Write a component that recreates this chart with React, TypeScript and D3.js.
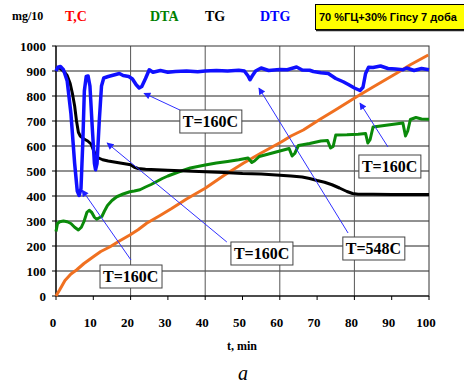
import React from "react";
import * as d3 from "d3";

const yTicks = [0, 100, 200, 300, 400, 500, 600, 700, 800, 900, 1000];
const xTicks = [0, 10, 20, 30, 40, 50, 60, 70, 80, 90, 100];
const xGrid = [20, 40, 60, 80];

const dtg: [number, number][] = [
  [0, 900], [0.5, 915], [1.2, 918], [2, 905], [3, 860], [4, 730], [5, 530], [5.7, 420], [6.2, 402], [6.7, 430],
  [7.2, 620], [7.6, 820], [8.1, 878], [8.6, 880], [9.1, 840], [9.7, 680], [10.3, 530], [10.6, 505], [11, 530],
  [11.6, 700], [12.2, 840], [12.8, 872], [14, 878], [16, 886], [17, 890], [18, 882], [19.5, 878], [20.5, 868],
  [21.5, 845], [22.3, 832], [23, 838], [24, 870], [25, 905], [26, 895], [28, 902], [30, 895], [32, 898], [35, 900],
  [38, 897], [40, 900], [43, 902], [46, 900], [49, 903], [50.5, 900], [51.5, 880], [52, 865], [52.6, 880],
  [53.5, 900], [55, 912], [57, 902], [60, 906], [62, 905], [64.5, 916], [66, 904], [68, 903], [69, 898], [71, 893],
  [73, 890], [75, 870], [77, 857], [78.5, 845], [80, 832], [81.5, 822], [82.3, 835], [83, 890], [83.8, 915],
  [85, 914], [87, 920], [89, 910], [91, 908], [93, 905], [94, 912], [96, 902], [98, 910], [100, 905],
];

const tg: [number, number][] = [
  [0, 910], [1, 912], [2, 900], [3, 882], [3.8, 850], [4.4, 810], [5, 760], [5.5, 700], [6, 655], [6.5, 640],
  [7.5, 628], [8.5, 620], [9.4, 608], [10, 585], [10.6, 565], [11.3, 553], [12.5, 545], [14, 540], [16, 535],
  [18, 530], [20, 525], [21, 515], [22, 510], [24, 507], [27, 505], [30, 503], [35, 500], [40, 497], [45, 494],
  [50, 490], [55, 488], [59, 484], [63, 480], [66, 476], [68, 470], [70, 462], [72, 455], [74, 445], [76, 432],
  [78, 418], [79.5, 410], [81, 407], [85, 407], [90, 406], [95, 406], [100, 406],
];

const dta: [number, number][] = [
  [0, 258], [0.4, 290], [1, 297], [2, 300], [3, 297], [4, 290], [5, 275], [6, 264], [6.8, 275], [7.5, 298],
  [8.3, 335], [8.9, 343], [9.6, 334], [10.3, 315], [10.9, 307], [11.6, 313], [12.3, 318], [13, 340], [13.8, 362],
  [15, 382], [16.3, 397], [18, 408], [19.8, 417], [21, 420], [22.5, 425], [24, 436], [25.5, 446], [27, 458],
  [28.5, 470], [30, 480], [33, 497], [36, 512], [40, 524], [43, 532], [46, 538], [49, 545], [51.5, 552],
  [52.5, 534], [53.2, 540], [54.5, 558], [57, 568], [60, 580], [62.5, 590], [63.3, 560], [64, 570], [65, 602],
  [68, 610], [71, 620], [72.8, 622], [73.6, 592], [74.3, 598], [75, 644], [78, 645], [81, 647], [83, 650],
  [83.6, 612], [84.2, 625], [85, 676], [88, 682], [91, 688], [93, 692], [93.7, 640], [94.3, 660], [95, 706],
  [96.5, 714], [98, 708], [100, 707],
];

const temp: [number, number][] = [
  [0, 0], [1, 25], [2.4, 62], [4, 88], [5.5, 104], [7.5, 130], [10, 157], [12, 178], [14.5, 197], [17, 220],
  [19.8, 244], [22, 265], [24.3, 291], [27.9, 322], [31, 350], [35, 388], [40, 431], [45, 482], [50.2, 531],
  [55, 572], [60.5, 617], [63, 640], [66.3, 664], [70.8, 707], [75, 745], [80.6, 797], [85, 836], [91.3, 891],
  [95, 925], [99.8, 964],
];

// annotation: label, box top-left (t, v), arrow start (t, v), arrow end (t, v)
const annLabels = ["T=160C", "T=160C", "T=548C", "T=160C", "T=160C"];
const annBox: [number, number][] = [[33.2, 744], [81.2, 564], [76.9, 236], [46.9, 216], [11.8, 124]];
const annFrom: [number, number][] = [[33.2, 744], [89, 596], [78.3, 252], [45.8, 216], [20.1, 144]];
const annTo: [number, number][] = [[23.6, 811], [81.5, 772], [54.4, 832], [13.7, 612], [7, 424]];

const legendLabels = ["T,C", "DTA", "TG", "DTG"];
const legendColors = ["#ff0000", "#008000", "#000000", "#0000ff"];
const legendX = [65, 150, 205, 260];

export default function App() {
  const x = d3.scaleLinear().domain([0, 100]).range([56, 429]);
  const y = d3.scaleLinear().domain([0, 1000]).range([296, 46]);
  const line = d3
    .line<[number, number]>()
    .x((d) => x(d[0]))
    .y((d) => y(d[1]));
  const serif = "'Liberation Serif', 'Times New Roman', serif";
  const sans = "'Liberation Sans', Arial, sans-serif";

  return (
    <svg
      width={464}
      height={387}
      style={{ position: "absolute", left: 0, top: 0, background: "#fff" }}
      fontFamily={serif}
    >
      <defs>
        <marker id="arr" viewBox="0 0 10 10" refX="9" refY="5" markerWidth="9" markerHeight="7" markerUnits="userSpaceOnUse" orient="auto">
          <path d="M0,0 L10,5 L0,10 z" fill="#2020ff" />
        </marker>
      </defs>
      <rect x={0} y={0} width={464} height={387} fill="#fff" />
      {/* gridlines */}
      {yTicks.slice(1, -1).map((v) => (
        <line key={"h" + v} x1={x(0)} x2={x(100)} y1={y(v)} y2={y(v)} stroke="#222" strokeWidth={1} />
      ))}
      {xGrid.map((t) => (
        <line key={"v" + t} x1={x(t)} x2={x(t)} y1={y(0)} y2={y(1000)} stroke="#555" strokeWidth={1} />
      ))}
      <rect x={x(0)} y={y(1000)} width={x(100) - x(0)} height={y(0) - y(1000)} fill="none" stroke="#333" strokeWidth={1} />
      <line x1={x(0)} x2={x(0)} y1={y(0)} y2={y(1000)} stroke="#000" strokeWidth={1.2} />
      <line x1={x(0)} x2={x(100)} y1={y(0)} y2={y(0)} stroke="#000" strokeWidth={1.2} />
      {/* ticks */}
      {yTicks.map((v) => (
        <g key={"yt" + v}>
          <line x1={x(0) - 4} x2={x(0)} y1={y(v)} y2={y(v)} stroke="#000" />
          <text x={46} y={y(v) + 4.5} textAnchor="end" fontSize={13} fontWeight="bold">
            {v}
          </text>
        </g>
      ))}
      {xTicks.map((t) => (
        <g key={"xt" + t}>
          <line x1={x(t)} x2={x(t)} y1={y(0)} y2={y(0) + 4} stroke="#000" />
          <text x={x(t) - 3} y={327} textAnchor="middle" fontSize={13} fontWeight="bold">
            {t}
          </text>
        </g>
      ))}
      <text x={242} y={350} textAnchor="middle" fontSize={12} fontWeight="bold">
        t, min
      </text>
      <text x={243} y={380} textAnchor="middle" fontSize={20} fontStyle="italic">
        a
      </text>
      {/* series */}
      <path d={line(temp) || ""} fill="none" stroke="#f07020" strokeWidth={3} strokeLinejoin="round" />
      <path d={line(dta) || ""} fill="none" stroke="#0a8a0a" strokeWidth={3} strokeLinejoin="round" />
      <path d={line(tg) || ""} fill="none" stroke="#000" strokeWidth={3} strokeLinejoin="round" />
      <path d={line(dtg) || ""} fill="none" stroke="#1010ff" strokeWidth={3.5} strokeLinejoin="round" />
      {/* annotations */}
      {annLabels.map((lab, i) => (
        <g key={"a" + i}>
          <line
            x1={x(annFrom[i][0])}
            y1={y(annFrom[i][1])}
            x2={x(annTo[i][0])}
            y2={y(annTo[i][1])}
            stroke="#3030ff"
            strokeWidth={1}
            markerEnd="url(#arr)"
          />
          <rect x={x(annBox[i][0])} y={y(annBox[i][1])} width={62} height={23} fill="#fff" stroke="#444" strokeWidth={1} />
          <text x={x(annBox[i][0]) + 3} y={y(annBox[i][1]) + 17} fontSize={16} fontWeight="bold">
            {lab}
          </text>
        </g>
      ))}
      {/* header */}
      <text x={12} y={20} fontSize={12} fontWeight="bold">
        mg/10
      </text>
      {legendLabels.map((l, i) => (
        <text key={l} x={legendX[i]} y={21} fontSize={14} fontWeight="bold" fill={legendColors[i]}>
          {l}
        </text>
      ))}
      <rect x={315.5} y={4.5} width={152} height={25} fill="#ffff00" stroke="#000" strokeWidth={1} />
      <line x1={316} x2={464} y1={30.5} y2={30.5} stroke="#222" strokeWidth={1.5} />
      <text x={319} y={21} fontSize={11} fontWeight="bold" fontFamily={sans}>
        70 %ГЦ+30% Гіпсу 7 доба
      </text>
    </svg>
  );
}
